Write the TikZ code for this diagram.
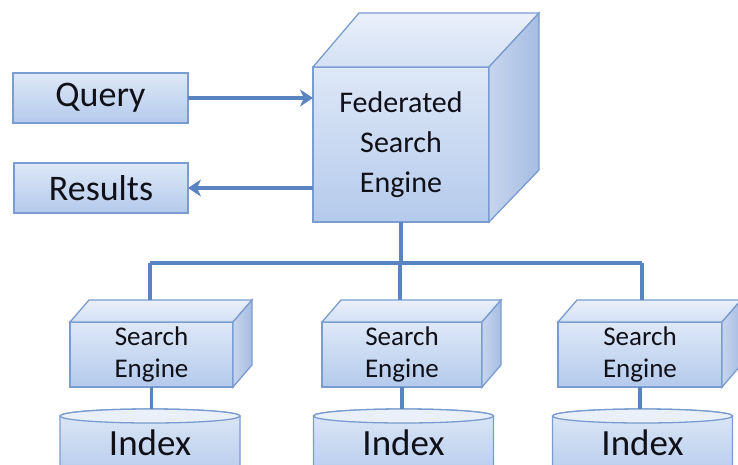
\documentclass[tikz,border=0pt]{standalone}
\usepackage{fontspec}
\setmainfont{Carlito}
\usetikzlibrary{arrows.meta,calc}
\definecolor{edgec}{HTML}{7A9CCF}
\definecolor{wirec}{HTML}{5885C2}
\definecolor{ftop}{HTML}{DEE8F7}
\definecolor{fbot}{HTML}{B4CAEC}
\definecolor{toplight}{HTML}{EAF0FA}
\definecolor{topdark}{HTML}{D3E0F4}
\definecolor{sidel}{HTML}{C6D5EE}
\definecolor{sided}{HTML}{A6BDE2}
\definecolor{ink}{HTML}{101018}
\begin{document}
\begin{tikzpicture}[x=1pt,y=-1pt,
  facebox/.style={draw=edgec, line width=1.3pt, top color=ftop, bottom color=fbot,
    text=ink, align=center, inner sep=0pt, outer sep=0pt},
  topface/.style={draw=edgec, line width=1.3pt, top color=toplight, bottom color=topdark},
  sideface/.style={draw=edgec, line width=1.3pt, left color=sidel, right color=sided},
  wire/.style={draw=wirec, line width=3.6pt},
  tipped/.style={-{Stealth[length=13pt,width=17pt,inset=4pt]}},
  bigtxt/.style={font=\fontsize{36}{40}\selectfont},
  fedtxt/.style={font=\fontsize{30}{40}\selectfont},
  smalltxt/.style={font=\fontsize{27}{32}\selectfont},
  idxtxt/.style={font=\fontsize{37}{40}\selectfont, text=ink, inner sep=0pt}]
\useasboundingbox (0,0) rectangle (738,464);

% Query / Results
\node[facebox, bigtxt, minimum width=175pt, minimum height=50pt] (query) at (100.5,98) {Query};
\node[facebox, bigtxt, minimum width=174pt, minimum height=50pt] (results) at (101,188) {Results};

% Federated cube
\node[facebox, fedtxt, minimum width=176pt, minimum height=155pt] (fse) at (401,144.5)
  {Federated\\Search\\Engine};
\path[topface] (fse.north west) -- ($(fse.north west)+(46,-54)$) -- ($(fse.north east)+(50,-54)$) -- (fse.north east) -- cycle;
\path[sideface] (fse.north east) -- ($(fse.north east)+(50,-54)$) -- ($(fse.south east)+(50,-52)$) -- (fse.south east) -- cycle;

% small cubes
\foreach \n/\x/\w in {se1/151.5/163, se2/402/160, se3/640/164}{
  \node[facebox, smalltxt, minimum width=\w pt, minimum height=65pt] (\n) at (\x,354.5) {Search\\Engine};
  \path[topface] (\n.north west) -- ($(\n.north west)+(19,-22)$) -- ($(\n.north east)+(19,-22)$) -- (\n.north east) -- cycle;
  \path[sideface] (\n.north east) -- ($(\n.north east)+(19,-22)$) -- ($(\n.south east)+(19,-22)$) -- (\n.south east) -- cycle;
}

% cylinders
\foreach \n/\x in {1/150, 2/403.5, 3/642.5}{
  \path[draw=edgec, line width=1.3pt, top color=ftop, bottom color=fbot]
    ($(\x,416)+(-90,0)$) -- ($(\x,480)+(-90,0)$) -- ($(\x,480)+(90,0)$) -- ($(\x,416)+(90,0)$)
    arc[start angle=0, end angle=180, x radius=90pt, y radius=7pt] -- cycle;
  \path[draw=edgec, line width=1.3pt, fill=toplight]
    (\x,416) ellipse [x radius=90pt, y radius=7pt];
  \coordinate (c\n) at (\x,409);
  \node[idxtxt] (i\n) at (\x,443) {Index};
}

% connectors
\draw[wire, tipped] (query.east) -- (query.east -| fse.west);
\draw[wire, tipped] (fse.west |- results.east) -- (results.east);
\coordinate (busy) at (0,263);
\draw[wire] (fse.south) -- (fse.south |- busy);
\draw[wire] (150,263) -- (642,263);
\draw[wire] (150,263) -- ($(se1.north)+(-1.5,-22)$);
\draw[wire] (400,263) -- ($(se2.north)+(-2,-22)$);
\draw[wire] (642,263) -- ($(se3.north)+(2,-22)$);
\draw[wire] (se1.south) -- (se1.south |- c1);
\draw[wire] (se2.south) -- (se2.south |- c2);
\draw[wire] (se3.south) -- (se3.south |- c3);
\end{tikzpicture}
\end{document}
